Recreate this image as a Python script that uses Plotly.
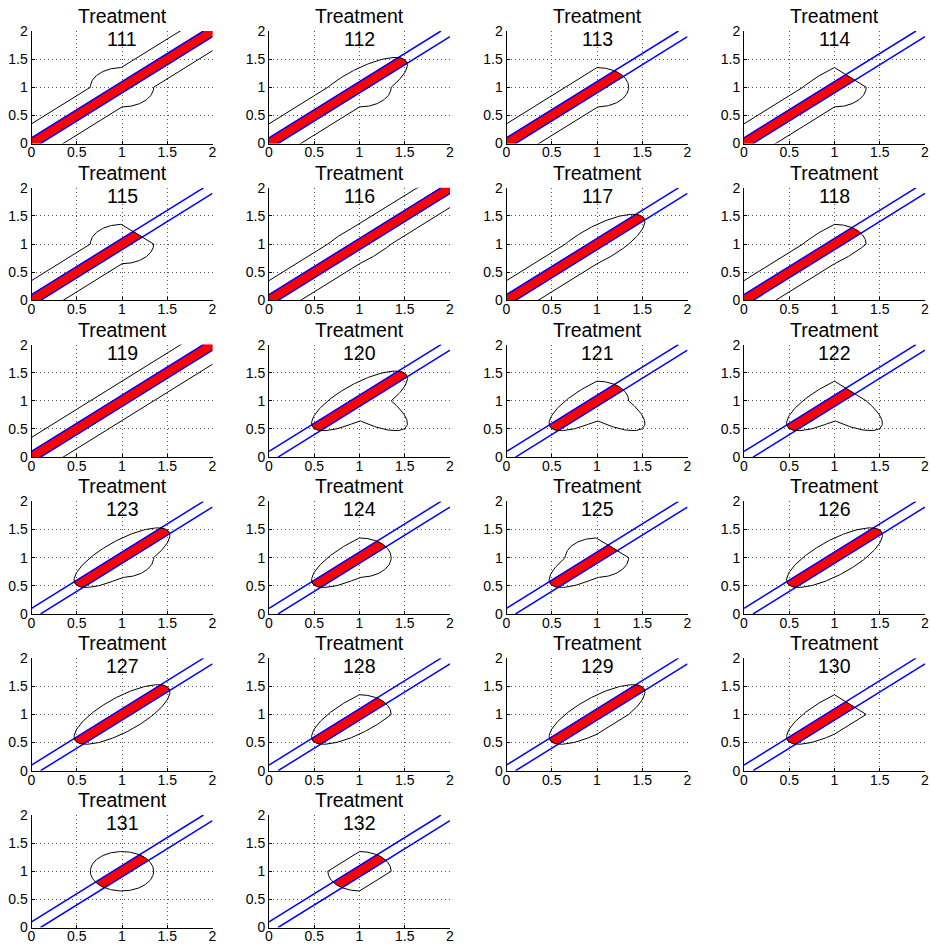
import numpy as np
import plotly.graph_objects as go

# ---------------- data ----------------
treatments = list(range(111, 133))
# shape of the acceptance region in each quadrant around the centre point
ur_shape = ["band", "ediag", "circle", "chord", "chord", "band", "ediag", "circle", "band",
            "ediag", "circle", "chord", "ediag", "circle", "chord", "ediag", "ediag", "circle",
            "ediag", "chord", "circle", "circle"]
ul_shape = ["circle", "ediag", "chord", "ediag", "circle", "ediag", "ediag", "ediag", "chord",
            "ediag", "ediag", "ediag", "ediag", "ediag", "circle", "ediag", "ediag", "ediag",
            "ediag", "ediag", "circle", "chord"]
ll_shape = ["band", "band", "band", "band", "band", "band", "band", "band", "band",
            "ediag", "ediag", "ediag", "ediag", "ediag", "ediag", "ediag", "ediag", "ediag",
            "ediag", "ediag", "circle", "circle"]
lr_shape = ["circle", "circle", "circle", "circle", "circle", "ediag", "ediag", "ediag", "chord",
            "eanti", "eanti", "eanti", "circle", "circle", "circle", "ediag", "ediag", "ediag",
            "chord", "chord", "circle", "chord"]

centre = (1.0, 1.0)
radius = 0.35          # region half-size on the axes through the centre
ellipse_major = 0.70   # semi-major axis of the elongated regions
band_half = 0.10       # blue lines: y = x +/- band_half
tick_vals = [0, 0.5, 1, 1.5, 2]
tick_text = ["0", "0.5", "1", "1.5", "2"]
axis_range = [0, 2]

# ---------------- geometry helpers ----------------
cx, cy = centre
minor = np.sqrt(0.5 / (1.0 / radius**2 - 0.5 / ellipse_major**2))


def quadrant_curve(kind, th0, quad):
    th = np.linspace(np.radians(th0), np.radians(th0 + 90), 60)
    if kind == "circle":
        r = np.full_like(th, radius)
    elif kind in ("ediag", "eanti"):
        phi = np.radians(45 if kind == "ediag" else -45)
        r = 1.0 / np.sqrt(np.cos(th - phi) ** 2 / ellipse_major**2 + np.sin(th - phi) ** 2 / minor**2)
    elif kind == "chord" or (kind == "band" and quad in ("UL", "LR")):
        th = th[[0, -1]]
        r = np.full_like(th, radius)
    elif kind == "band":
        far = 3.0
        if quad == "UR":
            return [(cx + radius, cy), (cx + far, cy + far - radius),
                    (cx + far - radius, cy + far), (cx, cy + radius)]
        else:  # LL
            return [(cx - radius, cy), (cx - far, cy - far + radius),
                    (cx - far + radius, cy - far), (cx, cy - radius)]
    return list(zip(cx + r * np.cos(th), cy + r * np.sin(th)))


def region_polygon(ur, ul, ll, lr):
    pts = []
    pts += quadrant_curve(ur, 0, "UR")
    pts += quadrant_curve(ul, 90, "UL")
    pts += quadrant_curve(ll, 180, "LL")
    pts += quadrant_curve(lr, 270, "LR")
    return pts


def clip_polygon(poly, window):
    out = list(poly)
    n = len(window)
    for i in range(n):
        a = window[i]
        b = window[(i + 1) % n]
        inp, out = out, []
        if not inp:
            break

        def side(p):
            return (b[0] - a[0]) * (p[1] - a[1]) - (b[1] - a[1]) * (p[0] - a[0])

        s = inp[-1]
        for e in inp:
            se, ee = side(s), side(e)
            if ee >= 0:
                if se < 0:
                    t = se / (se - ee)
                    out.append((s[0] + t * (e[0] - s[0]), s[1] + t * (e[1] - s[1])))
                out.append(e)
            elif se >= 0:
                t = se / (se - ee)
                out.append((s[0] + t * (e[0] - s[0]), s[1] + t * (e[1] - s[1])))
            s = e
    return out


lo, hi = axis_range
window = [(lo, lo), (lo + band_half, lo), (hi, hi - band_half), (hi, hi),
          (hi - band_half, hi), (lo, lo + band_half)]

# ---------------- layout geometry (pixels) ----------------
W, H = 930, 947
ncols = 4
col_left0, col_step, ax_w = 31.5, 237.5, 181.0
row_top0, row_step, ax_h = 31.0, 156.8, 112.5
FONT = "Liberation Sans, Arial, Helvetica, sans-serif"

fig = go.Figure()
layout = dict(width=W, height=H, margin=dict(l=0, r=0, t=0, b=0, autoexpand=False),
              paper_bgcolor="white", plot_bgcolor="white", showlegend=False,
              font=dict(family=FONT, color="black"))
annotations = []

for i, tr in enumerate(treatments):
    row, col = divmod(i, ncols)
    left = col_left0 + col * col_step
    top = row_top0 + row * row_step
    xd = [left / W, (left + ax_w) / W]
    yd = [1 - (top + ax_h) / H, 1 - top / H]
    xn = "x" if i == 0 else f"x{i+1}"
    yn = "y" if i == 0 else f"y{i+1}"
    common = dict(range=axis_range, tickvals=tick_vals, ticktext=tick_text,
                  showgrid=True, griddash="1px,3px", gridcolor="#555", gridwidth=1,
                  showline=True, linecolor="black", linewidth=1, ticks="inside",
                  ticklen=3, tickcolor="black", zeroline=False, fixedrange=True,
                  automargin=False,
                  tickfont=dict(size=14, family=FONT, color="black"))
    layout["xaxis" if i == 0 else f"xaxis{i+1}"] = dict(domain=xd, anchor=yn,
                                                       ticklabelstandoff=-4, **common)
    layout["yaxis" if i == 0 else f"yaxis{i+1}"] = dict(domain=yd, anchor=xn, **common)

    poly = region_polygon(ur_shape[i], ul_shape[i], ll_shape[i], lr_shape[i])
    red = clip_polygon(poly, window)
    if red:
        rx = [p[0] for p in red] + [red[0][0]]
        ry = [p[1] for p in red] + [red[0][1]]
        fig.add_trace(go.Scatter(x=rx, y=ry, mode="lines", fill="toself",
                                 fillcolor="#ff0000", line=dict(color="#ff0000", width=1),
                                 xaxis=xn, yaxis=yn, hoverinfo="skip"))
    # blue lines y = x +/- band_half
    fig.add_trace(go.Scatter(x=[lo, hi - band_half], y=[lo + band_half, hi], mode="lines",
                             line=dict(color="#0000ff", width=1.5), xaxis=xn, yaxis=yn,
                             hoverinfo="skip"))
    fig.add_trace(go.Scatter(x=[lo + band_half, hi], y=[lo, hi - band_half], mode="lines",
                             line=dict(color="#0000ff", width=1.5), xaxis=xn, yaxis=yn,
                             hoverinfo="skip"))
    bx = [p[0] for p in poly] + [poly[0][0]]
    by = [p[1] for p in poly] + [poly[0][1]]
    fig.add_trace(go.Scatter(x=bx, y=by, mode="lines", line=dict(color="black", width=1),
                             xaxis=xn, yaxis=yn, hoverinfo="skip"))

    xc = (left + ax_w / 2) / W
    annotations.append(dict(text="Treatment", x=xc, y=1 - (top - 15) / H, xref="paper",
                            yref="paper", showarrow=False, xanchor="center", yanchor="middle",
                            font=dict(size=19.5, family=FONT, color="black")))
    annotations.append(dict(text=str(tr), x=xc, y=1 - (top + 8) / H, xref="paper",
                            yref="paper", showarrow=False, xanchor="center", yanchor="middle",
                            font=dict(size=19.5, family=FONT, color="black")))

layout["annotations"] = annotations
fig.update_layout(**layout)
fig.write_html(
    "out.html",
    post_script="document.documentElement.style.margin='0';document.body.style.margin='0';"
                "document.body.style.padding='0';document.body.style.overflow='hidden';",
)
